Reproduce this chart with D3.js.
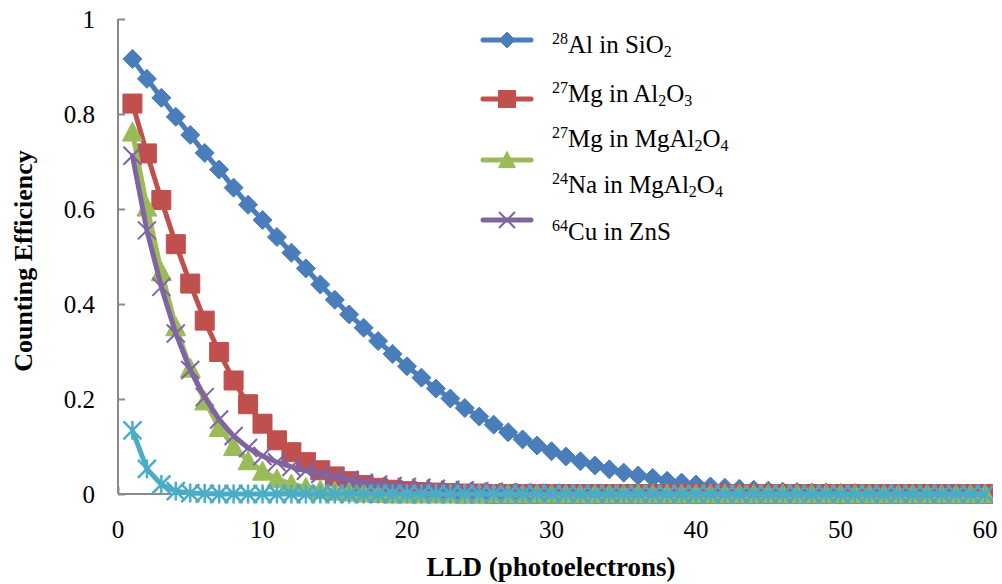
<!DOCTYPE html>
<html><head><meta charset="utf-8">
<script src="https://cdn.jsdelivr.net/npm/d3@7"></script>
<style>body{margin:0;background:#fff}svg{display:block}</style>
</head><body>
<svg id="c" width="1002" height="584"></svg>
<script>
// ---- data ----
const lld = [1,2,3,4,5,6,7,8,9,10,11,12,13,14,15,16,17,18,19,20,21,22,23,24,25,26,27,28,29,30,
             31,32,33,34,35,36,37,38,39,40,41,42,43,44,45,46,47,48,49,50,51,52,53,54,55,56,57,58,59,60];
const al28SiO2 = [0.916,0.874,0.834,0.794,0.756,0.718,0.683,0.645,0.609,0.577,0.541,0.508,0.475,0.441,0.409,
  0.378,0.350,0.322,0.295,0.269,0.245,0.222,0.201,0.181,0.163,0.146,0.130,0.115,0.102,0.090,
  0.079,0.069,0.060,0.052,0.045,0.039,0.034,0.028,0.024,0.020,0.016,0.013,0.011,0.009,0.007,
  0.005,0.004,0.003,0.003,0.002,0.002,0.001,0.001,0.001,0,0,0,0,0,0];
const mg27Al2O3 = [0.822,0.717,0.619,0.526,0.443,0.365,0.299,0.239,0.189,0.148,0.113,0.088,0.067,0.050,0.037,
  0.027,0.019,0.013,0.009,0.006,0.004,0.003,0.002,0.001,0.001,0,0,0,0,0,
  0,0,0,0,0,0,0,0,0,0,0,0,0,0,0,0,0,0,0,0,0,0,0,0,0,0,0,0,0,0];
const mg27MgAl2O4 = [0.762,0.604,0.468,0.352,0.265,0.196,0.140,0.100,0.070,0.048,0.032,0.021,0.014,0.009,0.006,
  0.004,0.002,0.001,0,0,0,0,0,0,0,0,0,0,0,0,
  0,0,0,0,0,0,0,0,0,0,0,0,0,0,0,0,0,0,0,0,0,0,0,0,0,0,0,0,0,0];
const cu64ZnS = [0.712,0.555,0.436,0.338,0.261,0.204,0.157,0.122,0.097,0.080,0.067,0.057,0.049,0.042,0.036,
  0.030,0.024,0.020,0.017,0.015,0.013,0.011,0.009,0.008,0.006,0.005,0.004,0.003,0.002,0.002,
  0.001,0,0,0,0,0,0,0,0,0,0,0,0,0,0,0,0,0,0,0,0,0,0,0,0,0,0,0,0,0];
const na24MgAl2O4 = [0.134,0.053,0.020,0.006,0.002,0.001,0,0,0,0,0,0,0,0,0,
  0,0,0,0,0,0,0,0,0,0,0,0,0,0,0,
  0,0,0,0,0,0,0,0,0,0,0,0,0,0,0,0,0,0,0,0,0,0,0,0,0,0,0,0,0,0];
const xTicks = [0,10,20,30,40,50,60];
const yTicks = [0,0.2,0.4,0.6,0.8,1];
const legendLabels = [
  [["28","sup"],["Al in SiO",""],["2","sub"]],
  [["27","sup"],["Mg in Al",""],["2","sub"],["O",""],["3","sub"]],
  [["27","sup"],["Mg in MgAl",""],["2","sub"],["O",""],["4","sub"]],
  [["24","sup"],["Na in MgAl",""],["2","sub"],["O",""],["4","sub"]],
  [["64","sup"],["Cu in ZnS",""]]
];
const xTitle = "LLD (photoelectrons)";
const yTitle = "Counting Efficiency";

// ---- layout ----
const svg = d3.select("#c");
const X0 = 118, X1 = 985, Y0 = 494, Y1 = 19;
const x = d3.scaleLinear().domain([0,60]).range([X0,X1]);
const y = d3.scaleLinear().domain([0,1]).range([Y0,Y1]);
const serif = "'Liberation Serif', 'DejaVu Serif', serif";
const axisColor = "#898989";

svg.append("defs").append("clipPath").attr("id","pc")
  .append("rect").attr("x",0).attr("y",0).attr("width",993).attr("height",584);

// axes
const yAx = svg.append("g").attr("transform",`translate(${X0},0)`)
  .call(d3.axisRight(y).tickValues(yTicks).tickSize(7).tickFormat(""));
const xAx = svg.append("g").attr("transform",`translate(0,${Y0})`)
  .call(d3.axisTop(x).tickValues(xTicks).tickSize(7).tickFormat(""));
[yAx,xAx].forEach(g=>{
  g.select(".domain").attr("stroke",axisColor).attr("stroke-width",2);
  g.selectAll(".tick line").attr("stroke",axisColor).attr("stroke-width",2);
});
xAx.select(".domain").attr("d",`M${X0},0H${X1+5}`);
yAx.select(".domain").attr("d",`M0,${Y0}V${Y1}`);

// tick labels
svg.append("g").selectAll("text").data(yTicks).join("text")
  .attr("x",95).attr("y",d=>y(d)).attr("dy","0.34em").attr("text-anchor","end")
  .attr("font-family",serif).attr("font-size",25).attr("fill","#000")
  .text(d=>d3.format("~g")(d));
svg.append("g").selectAll("text").data(xTicks).join("text")
  .attr("x",d=>x(d)).attr("y",538).attr("text-anchor","middle")
  .attr("font-family",serif).attr("font-size",25).attr("fill","#000")
  .text(d=>d);

// titles
svg.append("text").attr("x",551).attr("y",576).attr("text-anchor","middle")
  .attr("font-family",serif).attr("font-weight","bold").attr("font-size",27).text(xTitle);
svg.append("text").attr("transform","translate(32,261) rotate(-90)").attr("text-anchor","middle")
  .attr("font-family",serif).attr("font-weight","bold").attr("font-size",26).text(yTitle);

// markers
const markers = {
  diamond: (h)=>`M0,${-h}L${h},0L0,${h}L${-h},0Z`,
  square: (h)=>`M${-h},${-h}H${h}V${h}H${-h}Z`,
  triangle: (h)=>`M0,${-h}L${h},${h*0.9}L${-h},${h*0.9}Z`,
  cross: (h)=>`M${-h},${-h}L${h},${h}M${h},${-h}L${-h},${h}`,
  star: (h)=>`M${-h},${-h}L${h},${h}M${h},${-h}L${-h},${h}M0,${-h*1.05}V${h*1.05}`
};
const series = [
  {vals: al28SiO2, color:"#4A7EBB", marker:"diamond", size:9.5, fill:true},
  {vals: mg27Al2O3, color:"#C0504D", marker:"square", size:9.5, fill:true},
  {vals: mg27MgAl2O4, color:"#9BBB59", marker:"triangle", size:10, fill:true},
  {vals: cu64ZnS, color:"#8064A2", marker:"cross", size:9, fill:false, sw:2},
  {vals: na24MgAl2O4, color:"#4BACC6", marker:"star", size:9, fill:false, sw:2.5}
];
const line = d3.line().x(d=>x(d[0])).y(d=>y(d[1]));
const plot = svg.append("g").attr("clip-path","url(#pc)");
series.forEach(s=>{
  const pts = lld.map((v,i)=>[v,s.vals[i]]);
  const g = plot.append("g");
  g.append("path").attr("d",line(pts)).attr("fill","none").attr("stroke",s.color)
    .attr("stroke-width",5).attr("stroke-linejoin","round").attr("stroke-linecap","round");
  g.selectAll("path.m").data(pts).join("path").attr("class","m")
    .attr("transform",d=>`translate(${x(d[0])},${y(d[1])})`)
    .attr("d",markers[s.marker](s.size))
    .attr("fill",s.fill?s.color:"none")
    .attr("stroke",s.color).attr("stroke-width",s.fill?1:s.sw);
});

// legend
const legLineY = [40,99,160,220];
const legLabY = [53,102,147,193,240];
const lg = svg.append("g");
series.slice(0,4).forEach((s,i)=>{
  lg.append("line").attr("x1",483).attr("x2",531).attr("y1",legLineY[i]).attr("y2",legLineY[i])
    .attr("stroke",s.color).attr("stroke-width",5).attr("stroke-linecap","round");
  const h = s.marker==="diamond"?8:(s.marker==="cross"?8:8.5);
  lg.append("path").attr("transform",`translate(507,${legLineY[i]})`)
    .attr("d",markers[s.marker](h)).attr("fill",s.fill?s.color:"none")
    .attr("stroke",s.color).attr("stroke-width",s.fill?1:2);
});
legendLabels.forEach((segs,i)=>{
  const t = lg.append("text").attr("x",552).attr("y",legLabY[i])
    .attr("font-family",serif).attr("font-size",25).attr("fill","#000");
  let shift = 0;
  segs.forEach(([txt,kind])=>{
    const target = kind==="sup"?-9:(kind==="sub"?4:0);
    t.append("tspan").attr("dy",target-shift)
      .attr("font-size",kind?16:25).text(txt);
    shift = target;
  });
});
</script>
</body></html>
